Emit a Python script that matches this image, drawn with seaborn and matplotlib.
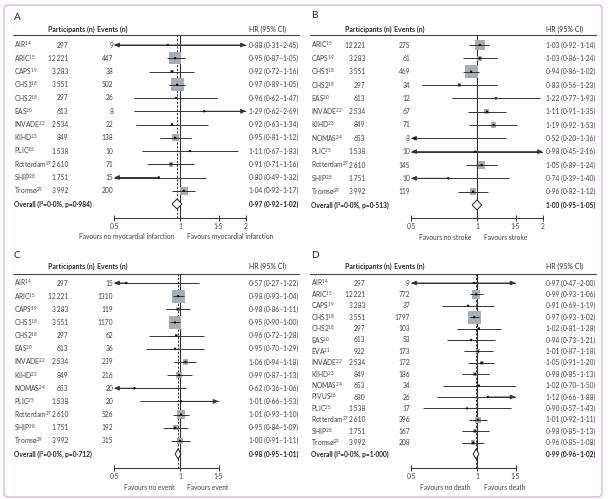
import numpy as np
import pandas as pd
import seaborn as sns
import matplotlib.pyplot as plt
from matplotlib.patches import FancyBboxPatch, Polygon
from matplotlib.ticker import NullLocator

sns.set_theme(style="white")
plt.rcParams['font.family'] = ['Lato', 'DejaVu Sans']
plt.rcParams['mathtext.fontset'] = 'custom'
plt.rcParams['mathtext.rm'] = 'Lato'
plt.rcParams['mathtext.it'] = 'Lato'

# ---- data ----
a_names = ['AIR', 'ARIC', 'CAPS', 'CHS1', 'CHS2', 'EAS', 'INVADE', 'KIHD', 'PLIC', 'Rotterdam', 'SHIP', 'Tromsø']
a_refs = [14, 15, 19, 18, 18, 20, 22, 23, 25, 27, 28, 29]
a_part = [297, 12221, 3283, 3551, 297, 613, 2534, 849, 1538, 2610, 1751, 3992]
a_events = [9, 447, 38, 502, 26, 8, 22, 138, 10, 71, 15, 200]
a_hr = [0.88, 0.95, 0.92, 0.97, 0.96, 1.29, 0.92, 0.95, 1.11, 0.91, 0.80, 1.04]
a_lo = [0.31, 0.87, 0.72, 0.89, 0.62, 0.62, 0.63, 0.81, 0.67, 0.71, 0.49, 0.92]
a_hi = [2.45, 1.05, 1.16, 1.05, 1.47, 2.69, 1.34, 1.12, 1.83, 1.16, 1.32, 1.17]
a_overall = (0.97, 0.92, 1.02, '0·0%', '0·984')

b_names = ['ARIC', 'CAPS', 'CHS1', 'CHS2', 'EAS', 'INVADE', 'KIHD', 'NOMAS', 'PLIC', 'Rotterdam', 'SHIP', 'Tromsø']
b_refs = [15, 19, 18, 18, 20, 22, 23, 24, 25, 27, 28, 29]
b_part = [12221, 3283, 3551, 297, 613, 2534, 849, 653, 1538, 2610, 1751, 3992]
b_events = [275, 61, 469, 34, 12, 67, 71, 8, 10, 145, 10, 119]
b_hr = [1.03, 1.03, 0.94, 0.83, 1.22, 1.11, 1.19, 0.52, 0.98, 1.05, 0.74, 0.96]
b_lo = [0.92, 0.86, 0.86, 0.56, 0.77, 0.91, 0.92, 0.20, 0.45, 0.89, 0.39, 0.82]
b_hi = [1.14, 1.24, 1.02, 1.23, 1.93, 1.35, 1.53, 1.36, 2.16, 1.24, 1.40, 1.12]
b_overall = (1.00, 0.95, 1.05, '0·0%', '0·513')

c_names = ['AIR', 'ARIC', 'CAPS', 'CHS1', 'CHS2', 'EAS', 'INVADE', 'KIHD', 'NOMAS', 'PLIC', 'Rotterdam', 'SHIP', 'Tromsø']
c_refs = [14, 15, 19, 18, 18, 20, 22, 23, 24, 25, 27, 28, 29]
c_part = [297, 12221, 3283, 3551, 297, 613, 2534, 849, 653, 1538, 2610, 1751, 3992]
c_events = [15, 1310, 119, 1170, 62, 36, 239, 216, 20, 20, 526, 192, 315]
c_hr = [0.57, 0.98, 0.98, 0.95, 0.96, 0.95, 1.06, 0.99, 0.62, 1.01, 1.01, 0.95, 1.00]
c_lo = [0.27, 0.93, 0.86, 0.90, 0.72, 0.70, 0.94, 0.87, 0.36, 0.66, 0.93, 0.84, 0.91]
c_hi = [1.22, 1.04, 1.11, 1.00, 1.28, 1.29, 1.18, 1.13, 1.06, 1.53, 1.10, 1.09, 1.11]
c_overall = (0.98, 0.95, 1.01, '0·0%', '0·712')

d_names = ['AIR', 'ARIC', 'CAPS', 'CHS1', 'CHS2', 'EAS', 'EVA', 'INVADE', 'KIHD', 'NOMAS', 'PIVUS', 'PLIC', 'Rotterdam', 'SHIP', 'Tromsø']
d_refs = [14, 15, 19, 18, 18, 20, 21, 22, 23, 24, 26, 25, 27, 28, 29]
d_part = [297, 12221, 3283, 3551, 297, 613, 922, 2534, 849, 653, 680, 1538, 2610, 1751, 3992]
d_events = [9, 772, 37, 1797, 103, 53, 173, 172, 186, 34, 26, 17, 396, 167, 208]
d_hr = [0.97, 0.99, 0.91, 0.97, 1.02, 0.94, 1.01, 1.05, 0.98, 1.02, 1.12, 0.90, 1.01, 0.98, 0.96]
d_lo = [0.47, 0.93, 0.69, 0.93, 0.81, 0.73, 0.87, 0.91, 0.85, 0.70, 0.66, 0.57, 0.92, 0.85, 0.85]
d_hi = [2.00, 1.06, 1.19, 1.02, 1.28, 1.21, 1.18, 1.20, 1.13, 1.50, 1.88, 1.43, 1.11, 1.13, 1.08]
d_overall = (0.99, 0.96, 1.02, '0·0%', '1·000')

tick_vals_ab = [0.5, 1, 1.5, 2]
tick_vals_cd = [0.5, 1, 1.5]
tick_labels = {0.5: '0·5', 1: '1', 1.5: '1·5', 2: '2'}

# ---- layout (pixels) ----
W, H = 608, 499
fig = plt.figure(figsize=(W / 100, H / 100), dpi=100)
fig.patch.set_facecolor('white')


def fx(x):
    return x / W


def fy(y):
    return 1 - y / H


def fmt(v):
    return f'{v:.2f}'.replace('.', '·')


TXT = '#404040'
LINE = '#333333'
BOX = '#a7adb6'
FS = 4.8
PX_PER_DOUBLE = 66

panels = [
    dict(letter='A', names=a_names, refs=a_refs, part=a_part, ev=a_events, hr=a_hr, lo=a_lo, hi=a_hi,
         overall=a_overall, ticks=tick_vals_ab, fav=('Favours no myocardial infarction', 'Favours myocardial infarction'),
         x0=0, lab_y=17, head_y=29, line_y=34.5, first=45, last=204, axis=218, fav_y=237),
    dict(letter='B', names=b_names, refs=b_refs, part=b_part, ev=b_events, hr=b_hr, lo=b_lo, hi=b_hi,
         overall=b_overall, ticks=tick_vals_ab, fav=('Favours no stroke', 'Favours stroke'),
         x0=297, lab_y=16, head_y=29, line_y=34.5, first=45, last=205, axis=218, fav_y=238),
    dict(letter='C', names=c_names, refs=c_refs, part=c_part, ev=c_events, hr=c_hr, lo=c_lo, hi=c_hi,
         overall=c_overall, ticks=tick_vals_cd, fav=('Favours no event', 'Favours event'),
         x0=0, lab_y=255, head_y=266, line_y=273.5, first=283, last=454, axis=468, fav_y=487),
    dict(letter='D', names=d_names, refs=d_refs, part=d_part, ev=d_events, hr=d_hr, lo=d_lo, hi=d_hi,
         overall=d_overall, ticks=tick_vals_cd, fav=('Favours no death', 'Favours death'),
         x0=297, lab_y=255, head_y=266, line_y=273.5, first=283, last=454, axis=468, fav_y=487),
]


def draw_panel(p):
    x0 = p['x0']
    n = len(p['names'])
    sp = (p['last'] - p['first']) / n
    one = x0 + 180
    xmin, xmax = p['ticks'][0], p['ticks'][-1]
    left = one + np.log2(xmin) * PX_PER_DOUBLE
    right = one + np.log2(xmax) * PX_PER_DOUBLE

    def ry(i):
        return fy(p['first'] + i * sp)

    # letter, headers, underline
    fig.text(fx(x0 + 14), fy(p['lab_y']), p['letter'], fontsize=7.2, color='#222', va='center', ha='left')
    fig.text(fx(x0 + 48), fy(p['head_y']), 'Participants (n)', fontsize=5.0, color='#2a2a2a',
             fontweight='bold', va='center', ha='left')
    fig.text(fx(x0 + 97), fy(p['head_y']), 'Events (n)', fontsize=5.0, color='#2a2a2a',
             fontweight='bold', va='center', ha='left')
    fig.text(fx(x0 + 249), fy(p['head_y']), 'HR (95% CI)', fontsize=5.0, color='#2a2a2a',
             va='center', ha='left')
    fig.add_artist(plt.Line2D([fx(x0 + 13), fx(x0 + 299)], [fy(p['line_y'])] * 2, lw=0.8, color='#444'))

    # table columns
    for i in range(n):
        fig.text(fx(x0 + 14), ry(i), p['names'][i] + r'$^{' + str(p['refs'][i]) + '}$',
                 fontsize=FS, color=TXT, va='center', ha='left')
        fig.text(fx(x0 + 68), ry(i), f"{p['part'][i]:,}".replace(',', '\u2009'),
                 fontsize=FS, color=TXT, va='center', ha='right')
        fig.text(fx(x0 + 113), ry(i), str(p['ev'][i]), fontsize=FS, color=TXT, va='center', ha='right')
        fig.text(fx(x0 + 249), ry(i), f"{fmt(p['hr'][i])} ({fmt(p['lo'][i])}–{fmt(p['hi'][i])})",
                 fontsize=FS, color=TXT, va='center', ha='left')
    ov, olo, ohi, i2, pv = p['overall']
    fig.text(fx(x0 + 14), ry(n), f'Overall (I²={i2}, p={pv})', fontsize=FS, color='#222',
             fontweight='bold', va='center', ha='left')
    fig.text(fx(x0 + 249), ry(n), f'{fmt(ov)} ({fmt(olo)}–{fmt(ohi)})', fontsize=FS, color='#222',
             fontweight='bold', va='center', ha='left')

    # forest axes
    ax = fig.add_axes([fx(left), fy(p['axis']), (right - left) / W, (p['axis'] - p['line_y']) / H])
    ax.patch.set_alpha(0)
    ax.set_xscale('log')
    ax.set_xlim(xmin, xmax)
    ax.set_ylim((p['axis'] - p['first']) / sp, (p['line_y'] - p['first']) / sp)
    for s in ['left', 'right', 'top']:
        ax.spines[s].set_visible(False)
    ax.spines['bottom'].set_color(LINE)
    ax.spines['bottom'].set_linewidth(0.7)
    ax.set_yticks([])
    ax.xaxis.set_minor_locator(NullLocator())
    ax.set_xticks(p['ticks'])
    ax.set_xticklabels([tick_labels[t] for t in p['ticks']])
    ax.tick_params(axis='x', direction='inout', length=5, width=0.7, color=LINE,
                   labelsize=FS, labelcolor=TXT, pad=1, bottom=True)

    ylo, yhi = ax.get_ylim()
    ax.plot([1, 1], [ylo, yhi], color=LINE, lw=0.8, zorder=1)
    ax.plot([ov, ov], [ylo, yhi], color=LINE, lw=0.7, ls=(0, (2.2, 1.6)), zorder=1)

    df = pd.DataFrame({'hr': p['hr'], 'lo': p['lo'], 'hi': p['hi'], 'ev': p['ev'], 'row': np.arange(n)})
    side = 13 * np.sqrt(df['ev'] / df['ev'].max())
    sns.scatterplot(data=df, x='hr', y='row', marker='s', s=(side * 0.72) ** 2, color=BOX,
                    edgecolor='none', linewidth=0, ax=ax, zorder=2, legend=False)
    for _, r in df.iterrows():
        lo_c, hi_c = max(r['lo'], xmin), min(r['hi'], xmax)
        ax.plot([lo_c, hi_c], [r['row'], r['row']], color=LINE, lw=0.7, zorder=3, solid_capstyle='butt')
        if r['lo'] < xmin:
            ax.annotate('', xy=(xmin, r['row']), xytext=(r['hr'], r['row']),
                        arrowprops=dict(arrowstyle='-|>,head_length=0.5,head_width=0.22', color=LINE, lw=0.7,
                                        shrinkA=0, shrinkB=0, mutation_scale=6), zorder=3)
        if r['hi'] > xmax:
            ax.annotate('', xy=(xmax, r['row']), xytext=(r['hr'], r['row']),
                        arrowprops=dict(arrowstyle='-|>,head_length=0.5,head_width=0.22', color=LINE, lw=0.7,
                                        shrinkA=0, shrinkB=0, mutation_scale=6), zorder=3)
    sns.scatterplot(data=df, x='hr', y='row', s=3, color='#111', edgecolor='none', ax=ax, zorder=4, legend=False)
    ax.set_xlabel('')
    ax.set_ylabel('')

    h = 5.0 / sp
    ax.add_patch(Polygon([(olo, n), (ov, n - h), (ohi, n), (ov, n + h)], closed=True,
                         facecolor='white', edgecolor='#222', lw=0.7, zorder=5))

    # favours labels
    fig.text(fx(one - 6), fy(p['fav_y']), p['fav'][0], fontsize=FS, color=TXT, ha='right', va='center')
    fig.text(fx(one + 7), fy(p['fav_y']), p['fav'][1], fontsize=FS, color=TXT, ha='left', va='center')


for p in panels:
    draw_panel(p)

frame = FancyBboxPatch((fx(4), fy(497)), (602 - 4) / W, (497 - 5) / H,
                       boxstyle='round,pad=0,rounding_size=0.008', transform=fig.transFigure,
                       facecolor='none', edgecolor='#eab3c6', lw=1.0)
fig.add_artist(frame)

fig.savefig('out.png', dpi=100)
